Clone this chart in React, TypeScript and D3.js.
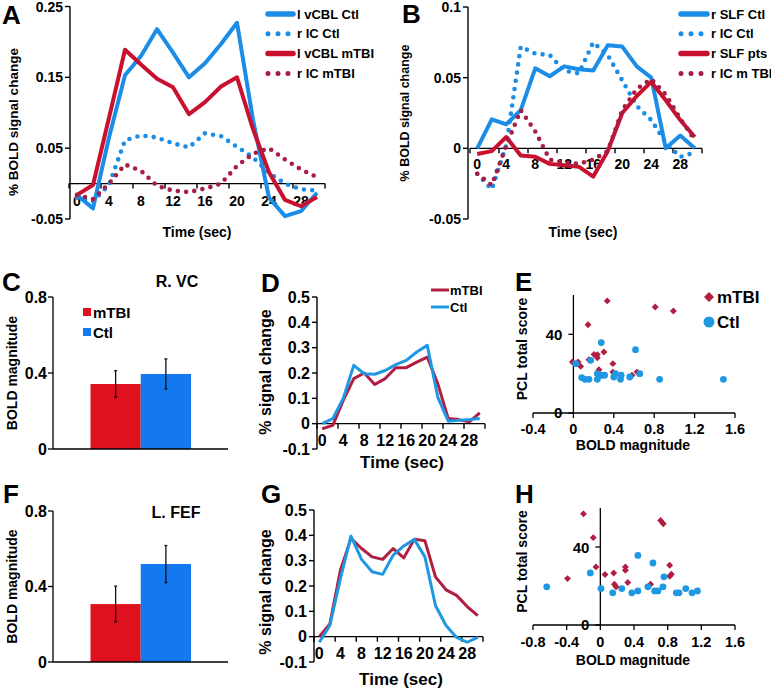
import React from 'react';
import * as d3 from 'd3';

const FONT = '"Liberation Sans", Arial, Helvetica, sans-serif';

// ---------- shared ----------
const timeSec = [0, 2, 4, 6, 8, 10, 12, 14, 16, 18, 20, 22, 24, 26, 28, 30];
const timeTickLabels = [0, 4, 8, 12, 16, 20, 24, 28];

// ---------- Panel A ----------
const aSeriesNames = ['l vCBL Ctl', 'r IC Ctl', 'l vCBL mTBI', 'r IC mTBI'];
const aVcblCtl = [-0.016, -0.035, 0.065, 0.153, 0.18, 0.218, 0.185, 0.15, 0.17, 0.197, 0.227, 0.09, -0.02, -0.046, -0.039, -0.013];
const aIcCtl = [-0.02, -0.025, -0.002, 0.061, 0.068, 0.065, 0.057, 0.051, 0.071, 0.067, 0.052, 0.037, 0.015, 0.0, -0.008, -0.01];
const aVcblMtbi = [-0.016, -0.002, 0.093, 0.189, 0.168, 0.148, 0.136, 0.098, 0.115, 0.137, 0.15, 0.077, 0.016, -0.023, -0.032, -0.019];
const aIcMtbi = [-0.016, -0.022, 0.0, 0.027, 0.018, -0.003, -0.01, -0.012, -0.007, 0.0, 0.025, 0.042, 0.05, 0.034, 0.02, 0.009];
const aYTicks = [-0.05, 0.05, 0.15, 0.25];

// ---------- Panel B ----------
const bSeriesNames = ['r SLF Ctl', 'r IC Ctl', 'r SLF pts', 'r IC m TBI'];
const bSlfCtl = [0, 0.0205, 0.017, 0.027, 0.0566, 0.051, 0.058, 0.056, 0.055, 0.073, 0.072, 0.058, 0.05, 0.0, 0.009, 0.0];
const bIcCtl = [-0.018, -0.029, 0.002, 0.072, 0.067, 0.066, 0.055, 0.053, 0.075, 0.066, 0.048, 0.03, 0.02, 0.004, -0.006, -0.003];
const bSlfPts = [-0.004, -0.002, 0.008, -0.005, -0.006, -0.011, -0.012, -0.013, -0.02, -0.002, 0.025, 0.037, 0.047, 0.034, 0.02, 0.008];
const bIcMtbi = [-0.018, -0.026, 0.002, 0.027, 0.012, -0.008, -0.01, -0.011, -0.008, -0.002, 0.027, 0.042, 0.049, 0.038, 0.021, 0.006];
const bYTicks = [-0.05, 0, 0.05, 0.1];

// ---------- Panels C / F (bars) ----------
const groups = ['mTBI', 'Ctl'];
const cMeans = [0.342, 0.395];
const cErrs = [0.07, 0.079];
const fMeans = [0.307, 0.519];
const fErrs = [0.095, 0.098];
const barYTicks = [0, 0.4, 0.8];

// ---------- Panels D / G ----------
const dMtbi = [-0.02, -0.007, 0.092, 0.178, 0.2, 0.155, 0.178, 0.221, 0.221, 0.243, 0.263, 0.158, 0.02, 0.016, 0.007, 0.043];
const dCtl = [0.0, 0.02, 0.1, 0.23, 0.197, 0.195, 0.21, 0.233, 0.25, 0.283, 0.309, 0.105, 0.01, 0.013, 0.016, 0.02];
const gMtbi = [0.0, 0.05, 0.262, 0.388, 0.348, 0.315, 0.305, 0.348, 0.311, 0.385, 0.379, 0.236, 0.185, 0.163, 0.119, 0.083];
const gCtl = [-0.022, 0.044, 0.229, 0.397, 0.305, 0.256, 0.246, 0.322, 0.358, 0.384, 0.315, 0.123, 0.044, -0.003, -0.022, -0.003];
const dgYTicks = [-0.1, 0, 0.1, 0.2, 0.3, 0.4, 0.5];

// ---------- Panels E / H (scatter) ----------
const eMtbiX = [-0.01, 0.046, 0.072, 0.154, 0.145, 0.204, 0.237, 0.237, 0.253, 0.302, 0.335, 0.391, 0.391, 0.58, 0.63, 0.81, 0.99];
const eMtbiY = [25.9, 25.9, 23.7, 27.1, 44.9, 29.8, 29.7, 28.1, 22, 31, 57, 25.1, 20.8, 19.2, 20.8, 53.9, 51.9];
const eCtlX = [0.023, 0.171, 0.276, 0.082, 0.115, 0.154, 0.237, 0.237, 0.279, 0.309, 0.4, 0.417, 0.466, 0.473, 0.558, 0.615, 0.657, 0.854, 1.485];
const eCtlY = [25.1, 26.8, 35.8, 18, 17.1, 17.1, 17.1, 20, 19.2, 19.2, 18.3, 20, 17.1, 19.2, 18.3, 32.2, 20, 17.1, 17.1];
const eXTicks = [-0.4, 0, 0.4, 0.8, 1.2, 1.6];

const hMtbiX = [-0.2, -0.084, -0.052, -0.39, 0.056, 0.159, 0.167, 0.187, 0.298, 0.298, 0.326, 0.597, 0.716, 0.748, 0.824, 0.824, 0.844];
const hMtbiY = [57, 44.8, 29.8, 23.8, 25.9, 26.7, 20.9, 19.6, 29.8, 28.1, 21.8, 20.9, 53.6, 51.9, 30.6, 25, 26];
const hCtlX = [-0.637, -0.119, 0.008, 0.147, 0.255, 0.374, 0.446, 0.446, 0.565, 0.625, 0.645, 0.684, 0.744, 0.756, 0.903, 0.935, 1.015, 1.09, 1.154];
const hCtlY = [19.6, 26.7, 18.7, 16.5, 18.7, 16.5, 17.5, 35.7, 19.6, 31.8, 17.5, 17.5, 19.6, 24.7, 16.5, 16.5, 18.7, 16.5, 17.5];
const hXTicks = [-0.8, -0.4, 0, 0.4, 0.8, 1.2, 1.6];
const scatterYTicks = [0, 40];

// colours
const BLUE = '#1b8de6';
const RED = '#c8112f';
const CRIMSON = '#a61e44';
const BAR_RED = '#e0111f';
const BAR_BLUE = '#1479f0';
const D_RED = '#b01e42';
const D_BLUE = '#1e98e2';

type Series = { name: string; values: number[]; color: string; dotted: boolean };

function TimeCourse(p: {
  series: Series[];
  xRange: [number, number];
  yDomain: [number, number];
  yRange: [number, number];
  yTicks: number[];
  axisX: number;
  lineW: number;
  tickFs: number;
  xLabDy: number;
}) {
  const x = d3.scaleLinear().domain([-1, 31]).range(p.xRange);
  const y = d3.scaleLinear().domain(p.yDomain).range(p.yRange);
  const line = d3.line<number>().x((_, i) => x(timeSec[i])).y((v) => y(v));
  const y0 = y(0);
  const marks = d3.range(-1, 32, 4);
  return (
    <g>
      <line x1={p.axisX} x2={p.axisX} y1={p.yRange[0]} y2={p.yRange[1]} stroke="#000" strokeWidth={1.4} />
      {p.yTicks.map((t) => (
        <g key={'yt' + t}>
          <line x1={p.axisX - 5} x2={p.axisX} y1={y(t)} y2={y(t)} stroke="#000" strokeWidth={1.4} />
          <text x={p.axisX - 7} y={y(t)} textAnchor="end" dominantBaseline="central" fontSize={p.tickFs} fontWeight="bold">
            {String(t)}
          </text>
        </g>
      ))}
      <line x1={x(-1)} x2={x(31)} y1={y0} y2={y0} stroke="#000" strokeWidth={1.4} />
      {marks.map((t) => (
        <line key={'xm' + t} x1={x(t)} x2={x(t)} y1={y0} y2={y0 + 5} stroke="#000" strokeWidth={1.4} />
      ))}
      {timeTickLabels.map((t) => (
        <text key={'xl' + t} x={x(t)} y={y0 + p.xLabDy} textAnchor="middle" dominantBaseline="central" fontSize={p.tickFs} fontWeight="bold">
          {t}
        </text>
      ))}
      {p.series.map((s) => (
        <path
          key={s.name}
          d={line(s.values) || ''}
          fill="none"
          stroke={s.color}
          strokeWidth={s.dotted ? p.lineW + 0.6 : p.lineW}
          strokeDasharray={s.dotted ? '0 8.3' : undefined}
          strokeLinecap={s.dotted ? 'round' : 'butt'}
          strokeLinejoin="round"
        />
      ))}
    </g>
  );
}

function Legend4(p: { series: Series[]; x: number; y: number; gap: number; len: number; fs: number }) {
  return (
    <g>
      {p.series.map((s, i) => {
        const yy = p.y + i * p.gap;
        return (
          <g key={s.name}>
            <line
              x1={p.x + 2}
              x2={p.x + p.len - 2}
              y1={yy}
              y2={yy}
              stroke={s.color}
              strokeWidth={s.dotted ? 5 : 5.5}
              strokeLinecap="round"
              strokeDasharray={s.dotted ? '0 10' : undefined}
            />
            <text x={p.x + p.len + 2} y={yy} dominantBaseline="central" fontSize={p.fs} fontWeight="bold">
              {s.name}
            </text>
          </g>
        );
      })}
    </g>
  );
}

function BarPanel(p: { means: number[]; errs: number[]; yRange: [number, number]; title: string; titleX: number; titleY: number; legend: boolean }) {
  const y = d3.scaleLinear().domain([0, 0.8]).range(p.yRange);
  const x = d3.scaleBand<string>().domain(groups).range([90.5, 191]).padding(0);
  const colors = [BAR_RED, BAR_BLUE];
  const axisX = 53;
  return (
    <g>
      {groups.map((g, i) => (
        <rect key={g} x={x(g)} y={y(p.means[i])} width={x.bandwidth()} height={y(0) - y(p.means[i])} fill={colors[i]} />
      ))}
      {groups.map((g, i) => {
        const cx = (x(g) || 0) + x.bandwidth() / 2;
        const lo = y(p.means[i] - p.errs[i]);
        const hi = y(p.means[i] + p.errs[i]);
        return (
          <g key={'e' + g} stroke="#111" strokeWidth={1.3}>
            <line x1={cx} x2={cx} y1={lo} y2={hi} />
            <line x1={cx - 1.5} x2={cx + 1.5} y1={lo} y2={lo} />
            <line x1={cx - 1.5} x2={cx + 1.5} y1={hi} y2={hi} />
          </g>
        );
      })}
      <line x1={axisX} x2={axisX} y1={y(0)} y2={y(0.8)} stroke="#000" strokeWidth={1.3} />
      <line x1={axisX} x2={228} y1={y(0)} y2={y(0)} stroke="#000" strokeWidth={1.3} />
      {barYTicks.map((t) => (
        <g key={'bt' + t}>
          <line x1={axisX - 5} x2={axisX} y1={y(t)} y2={y(t)} stroke="#000" strokeWidth={1.3} />
          <text x={axisX - 6} y={y(t)} textAnchor="end" dominantBaseline="central" fontSize={16} fontWeight="bold">
            {String(t)}
          </text>
        </g>
      ))}
      <text x={p.titleX} y={p.titleY} textAnchor="middle" fontSize={16} fontWeight="bold">
        {p.title}
      </text>
      <text
        transform={`translate(17,${(y(0) + y(0.8)) / 2}) rotate(-90)`}
        textAnchor="middle"
        fontSize={14}
        fontWeight="bold"
      >
        BOLD magnitude
      </text>
      {p.legend &&
        groups.map((g, i) => (
          <g key={'lg' + g}>
            <rect x={83} y={308 + i * 20} width={8} height={8} fill={colors[i]} />
            <text x={93} y={312 + i * 20} dominantBaseline="central" fontSize={15} fontWeight="bold">
              {g}
            </text>
          </g>
        ))}
    </g>
  );
}

function Scatter(p: {
  xDomain: [number, number];
  yRange: [number, number];
  xTicks: number[];
  mx: number[];
  my: number[];
  cx: number[];
  cy: number[];
  legend: boolean;
  tickDy: number;
  labDy: number;
}) {
  const x = d3.scaleLinear().domain(p.xDomain).range([533, 735]);
  const y = d3.scaleLinear().domain([0, 60]).range(p.yRange);
  const ax = x(0);
  const diamond = d3.symbol().type(d3.symbolSquare).size(24)() || '';
  const bigDiamond = d3.symbol().type(d3.symbolSquare).size(50)() || '';
  return (
    <g>
      <line x1={ax} x2={ax} y1={y(0)} y2={y(60)} stroke="#000" strokeWidth={1.3} />
      <line x1={x(p.xDomain[0])} x2={x(p.xDomain[1])} y1={y(0)} y2={y(0)} stroke="#000" strokeWidth={1.3} />
      {scatterYTicks.map((t) => (
        <g key={'sy' + t}>
          <line x1={ax - 5} x2={ax} y1={y(t)} y2={y(t)} stroke="#000" strokeWidth={1.3} />
          <text x={ax - 11} y={y(t) - (t === 0 ? 1 : 0)} textAnchor="end" dominantBaseline="central" fontSize={15} fontWeight="bold">
            {String(t)}
          </text>
        </g>
      ))}
      {p.xTicks.map((t) => (
        <g key={'sx' + t}>
          <line x1={x(t)} x2={x(t)} y1={y(0)} y2={y(0) + 5} stroke="#000" strokeWidth={1.3} />
          <text x={x(t)} y={y(0) + p.tickDy} textAnchor="middle" dominantBaseline="central" fontSize={14.5} fontWeight="bold">
            {String(t)}
          </text>
        </g>
      ))}
      {p.mx.map((v, i) => (
        <path key={'m' + i} d={diamond} transform={`translate(${x(v)},${y(p.my[i])}) rotate(45)`} fill={D_RED} />
      ))}
      {p.cx.map((v, i) => (
        <circle key={'c' + i} cx={x(v)} cy={y(p.cy[i])} r={3.4} fill={D_BLUE} />
      ))}
      <text transform={`translate(527,${(y(0) + y(60)) / 2 - 5}) rotate(-90)`} textAnchor="middle" fontSize={14} fontWeight="bold">
        PCL total score
      </text>
      <text x={633} y={y(0) + p.labDy} textAnchor="middle" fontSize={14} fontWeight="bold">
        BOLD magnitude
      </text>
      {p.legend && (
        <g>
          <path d={bigDiamond} transform={`translate(709,297) rotate(45)`} fill={D_RED} />
          <text x={717} y={297} dominantBaseline="central" fontSize={17} fontWeight="bold">mTBI</text>
          <circle cx={709} cy={322} r={5.5} fill={D_BLUE} />
          <text x={717} y={322} dominantBaseline="central" fontSize={17} fontWeight="bold">Ctl</text>
        </g>
      )}
    </g>
  );
}

export default function App() {
  const aSeries: Series[] = [
    { name: aSeriesNames[0], values: aVcblCtl, color: BLUE, dotted: false },
    { name: aSeriesNames[1], values: aIcCtl, color: BLUE, dotted: true },
    { name: aSeriesNames[2], values: aVcblMtbi, color: RED, dotted: false },
    { name: aSeriesNames[3], values: aIcMtbi, color: CRIMSON, dotted: true },
  ];
  const bSeries: Series[] = [
    { name: bSeriesNames[0], values: bSlfCtl, color: BLUE, dotted: false },
    { name: bSeriesNames[1], values: bIcCtl, color: BLUE, dotted: true },
    { name: bSeriesNames[2], values: bSlfPts, color: RED, dotted: false },
    { name: bSeriesNames[3], values: bIcMtbi, color: CRIMSON, dotted: true },
  ];
  const dSeries: Series[] = [
    { name: 'mTBI', values: dMtbi, color: D_RED, dotted: false },
    { name: 'Ctl', values: dCtl, color: D_BLUE, dotted: false },
  ];
  const gSeries: Series[] = [
    { name: 'mTBI', values: gMtbi, color: D_RED, dotted: false },
    { name: 'Ctl', values: gCtl, color: D_BLUE, dotted: false },
  ];
  const letter = (t: string, x: number, y: number) => (
    <text x={x} y={y} fontSize={26} fontWeight="bold">{t}</text>
  );
  return (
    <svg
      width={771}
      height={689}
      viewBox="0 0 771 689"
      style={{ position: 'absolute', left: 0, top: 0, background: '#fff' }}
      fontFamily={FONT}
      fill="#000"
    >
      <rect x={0} y={0} width={771} height={689} fill="#fff" />
      {/* Panel A */}
      <TimeCourse series={aSeries} xRange={[69, 325]} yDomain={[-0.05, 0.25]} yRange={[219, 6.5]} yTicks={aYTicks} axisX={70} lineW={4} tickFs={14} xLabDy={17} />
      <Legend4 series={aSeries} x={266} y={14} gap={19.8} len={29} fs={13} />
      <text transform="translate(18,122) rotate(-90)" textAnchor="middle" fontSize={13.5} fontWeight="bold">% BOLD signal change</text>
      <text x={197} y={237} textAnchor="middle" fontSize={14} fontWeight="bold">Time (sec)</text>
      {letter('A', 2, 24)}

      {/* Panel B */}
      <TimeCourse series={bSeries} xRange={[470, 702]} yDomain={[-0.05, 0.1]} yRange={[219, 7]} yTicks={bYTicks} axisX={468} lineW={4} tickFs={14} xLabDy={16} />
      <Legend4 series={bSeries} x={679} y={14} gap={19.8} len={30} fs={13} />
      <text transform="translate(409,113) rotate(-90)" textAnchor="middle" fontSize={12.5} fontWeight="bold">% BOLD signal change</text>
      <text x={583} y={237} textAnchor="middle" fontSize={14} fontWeight="bold">Time (sec)</text>
      {letter('B', 402, 23)}

      {/* Panel C */}
      <BarPanel means={cMeans} errs={cErrs} yRange={[449, 297]} title="R. VC" titleX={177} titleY={287} legend={true} />
      {letter('C', 2, 291)}

      {/* Panel D */}
      <TimeCourse series={dSeries} xRange={[317, 485]} yDomain={[-0.1, 0.5]} yRange={[449, 297]} yTicks={dgYTicks} axisX={317} lineW={3} tickFs={16} xLabDy={17} />
      {dSeries.map((s, i) => (
        <g key={'dl' + s.name}>
          <line x1={431} x2={449} y1={290 + i * 17} y2={290 + i * 17} stroke={s.color} strokeWidth={3} />
          <text x={450} y={290 + i * 17} dominantBaseline="central" fontSize={13} fontWeight="bold">{s.name}</text>
        </g>
      ))}
      <text transform="translate(271,372) rotate(-90)" textAnchor="middle" fontSize={16} fontWeight="bold">% signal change</text>
      <text x={402} y={468} textAnchor="middle" fontSize={17} fontWeight="bold">Time (sec)</text>
      {letter('D', 261, 292)}

      {/* Panel E */}
      <Scatter xDomain={[-0.4, 1.6]} yRange={[413, 295]} xTicks={eXTicks} mx={eMtbiX} my={eMtbiY} cx={eCtlX} cy={eCtlY} legend={true} tickDy={16} labDy={37} />
      {letter('E', 515, 291)}

      {/* Panel F */}
      <BarPanel means={fMeans} errs={fErrs} yRange={[662, 511]} title="L. FEF" titleX={176} titleY={518} legend={false} />
      {letter('F', 3, 503)}

      {/* Panel G */}
      <TimeCourse series={gSeries} xRange={[314, 483]} yDomain={[-0.1, 0.5]} yRange={[662, 510]} yTicks={dgYTicks} axisX={314} lineW={3} tickFs={16} xLabDy={17} />
      <text transform="translate(271,592) rotate(-90)" textAnchor="middle" fontSize={16} fontWeight="bold">% signal change</text>
      <text x={401} y={685} textAnchor="middle" fontSize={17} fontWeight="bold">Time (sec)</text>
      {letter('G', 261, 503)}

      {/* Panel H */}
      <Scatter xDomain={[-0.8, 1.6]} yRange={[625, 508]} xTicks={hXTicks} mx={hMtbiX} my={hMtbiY} cx={hCtlX} cy={hCtlY} legend={false} tickDy={17} labDy={40} />
      {letter('H', 515, 503)}
    </svg>
  );
}
